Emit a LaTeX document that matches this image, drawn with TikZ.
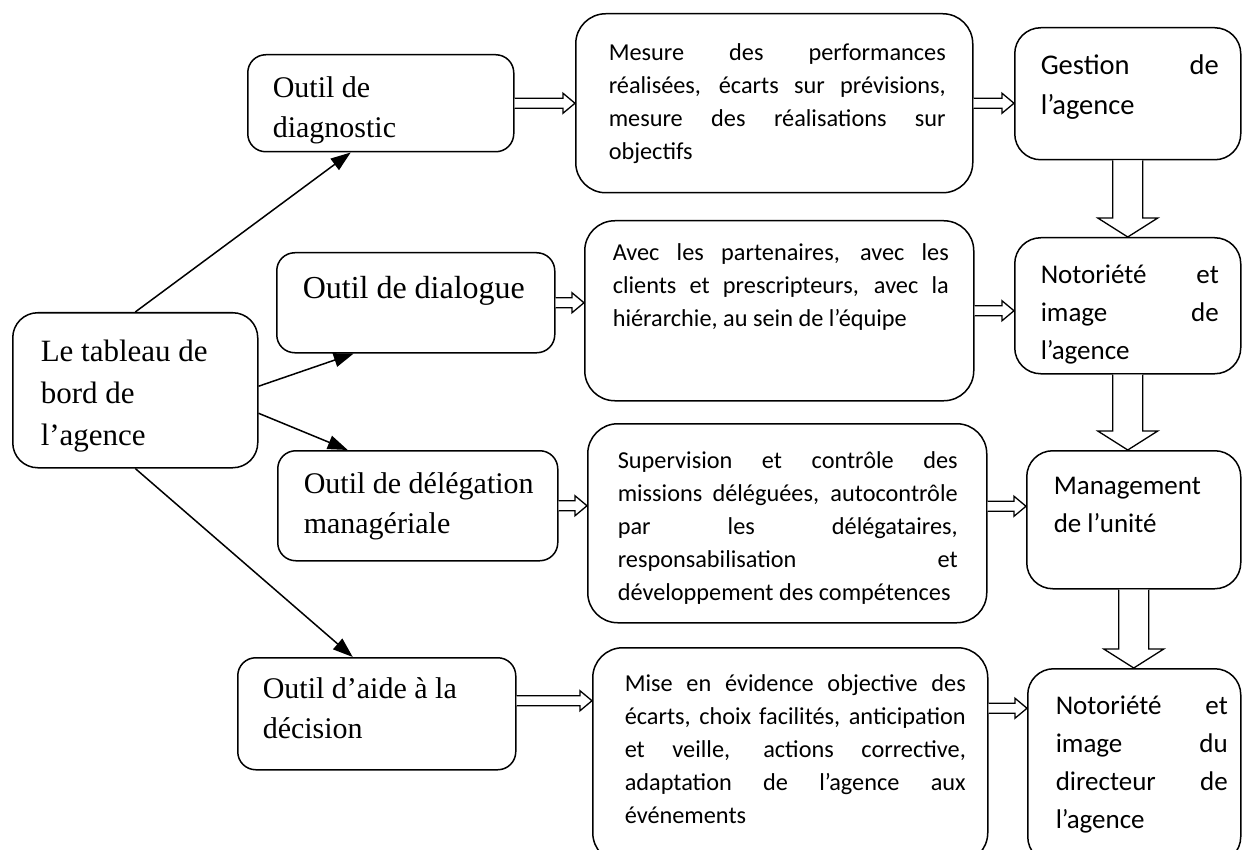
\documentclass[tikz,border=0pt]{standalone}
\usepackage{fontspec}
\setmainfont{Liberation Serif}
\newfontfamily\carlito{Carlito}
\usetikzlibrary{arrows.meta,calc}

% #1 width, #2 height, #3 left margin, #4 right margin, #5 first baseline, #6 font, #7 text
\newcommand\boxtext[7]{\parbox[c][#2pt][t]{#1pt}{#6\vspace*{\dimexpr#5pt-\ht\strutbox\relax}\leftskip=#3pt\relax\rightskip=#4pt\relax\tolerance=10000\hyphenpenalty=10000\strut#7}}
\newcommand\hblk[2]{\draw[blk] let \p1=(#1), \p2=(#2) in
  (\x1,\y1+5pt) -- (\x2-12pt,\y1+5pt) -- (\x2-12pt,\y1+10pt) -- (\x2,\y1) -- (\x2-12pt,\y1-10pt) -- (\x2-12pt,\y1-5pt) -- (\x1,\y1-5pt);}
\newcommand\vblk[2]{\draw[blk] let \p1=(#1), \p2=(#2) in
  (\x1-15pt,\y1) -- (\x1-15pt,\y2+19pt) -- (\x1-30pt,\y2+19pt) -- (\x1,\y2) -- (\x1+30pt,\y2+19pt) -- (\x1+15pt,\y2+19pt) -- (\x1+15pt,\y1);}
\newcommand\serifL{\fontsize{30}{40}\selectfont}
\newcommand\descF{\carlito\fontsize{24.3}{33}\selectfont}
\newcommand\rightF{\carlito\fontsize{27}{38}\selectfont}

\begin{document}
\begin{tikzpicture}[x=1pt,y=-1pt,
  box/.style={draw, line width=1.5pt, inner sep=0pt, anchor=north west},
  lbox/.style={box, rounded corners=18pt},
  dbox/.style={box, rounded corners=30pt},
  rbox/.style={box, rounded corners=26pt},
  blk/.style={draw, line width=1.3pt, fill=white, line join=miter},
  conn/.style={line width=1.5pt, -{Triangle[length=20pt,width=14pt]}}]
\useasboundingbox (0,0) rectangle (1242,850);
\fill[white] (0,0) rectangle (1242,850);
\clip (0,0) rectangle (1242,850);

% left column
\node[box, rounded corners=25pt] (central) at (12,312) {\boxtext{245}{155}{28}{5}{49}{\fontsize{31}{42}\selectfont}{Le tableau de\\bord de\\l’agence}};
\node[lbox] (diag) at (247,54) {\boxtext{266}{97}{25}{5}{43}{\serifL}{Outil de\\diagnostic}};
\node[lbox] (dial) at (276,252) {\boxtext{278}{100}{26}{5}{46}{\fontsize{32}{40}\selectfont}{Outil de dialogue}};
\node[lbox] (deleg) at (277,450) {\boxtext{280}{110}{26}{5}{43}{\serifL}{Outil de délégation\\managériale}};
\node[lbox] (aide) at (237,657) {\boxtext{278}{112}{25}{5}{41}{\serifL}{Outil d’aide à la\\décision}};

% middle column
\node[dbox] (mesure) at (575,13) {\boxtext{397}{179}{33}{27}{47}{\descF}{Mesure des performances\linebreak réalisées, écarts sur prévisions,\linebreak mesure des réalisations sur\linebreak objectifs}};
\node[dbox] (avec) at (584,220) {\boxtext{389}{180}{28}{25}{40}{\descF}{Avec les partenaires, avec les\linebreak clients et prescripteurs, avec la\linebreak hiérarchie, au sein de l’équipe}};
\node[dbox] (sup) at (587,423) {\boxtext{399}{199}{30}{29}{45}{\descF}{Supervision et contrôle des\linebreak missions déléguées, autocontrôle\linebreak par les délégataires,\linebreak responsabilisation et\linebreak développement des compétences}};
\node[dbox] (mise) at (592,647) {\boxtext{395}{215}{32}{22}{44}{\descF}{Mise en évidence objective des\linebreak écarts, choix facilités, anticipation\linebreak et veille, actions corrective,\linebreak adaptation de l’agence aux\linebreak événements}};

% right column
\node[rbox] (gestion) at (1014,27) {\boxtext{226}{132}{26}{22}{47}{\carlito\fontsize{28.5}{40}\selectfont}{Gestion de\linebreak l’agence}};
\node[rbox] (notor) at (1014,237) {\boxtext{226}{136}{26}{22}{46}{\rightF}{Notoriété et\linebreak image de\linebreak l’agence}};
\node[rbox] (manag) at (1026,450) {\boxtext{214}{138}{27}{10}{44}{\rightF}{Management\\de l’unité}};
\node[rbox] (direc) at (1027,668) {\boxtext{213}{194}{28}{13}{46}{\rightF}{Notoriété et\linebreak image du\linebreak directeur de\linebreak l’agence}};

% line arrows from the central box
\draw[conn] (central.north) -- ([xshift=-30pt]diag.south);
\draw[conn] ([yshift=4pt]central.east) -- ([xshift=-62pt]dial.south);
\draw[conn] ([yshift=-23pt]central.east) -- ([xshift=-70pt]deleg.north);
\draw[conn] (central.south) -- ([xshift=-24pt]aide.north);

% block arrows
\hblk{diag.east}{mesure.west}
\hblk{mesure.east}{gestion.west}
\hblk{dial.east}{avec.west}
\hblk{avec.east}{notor.west}
\hblk{deleg.east}{sup.west}
\hblk{[yshift=17pt]sup.east}{manag.west}
\hblk{[yshift=13pt]aide.east}{mise.west}
\hblk{[yshift=47pt]mise.east}{direc.west}
\vblk{gestion.south}{notor.north}
\vblk{notor.south}{manag.north}
\vblk{manag.south}{direc.north}
\end{tikzpicture}
\end{document}
